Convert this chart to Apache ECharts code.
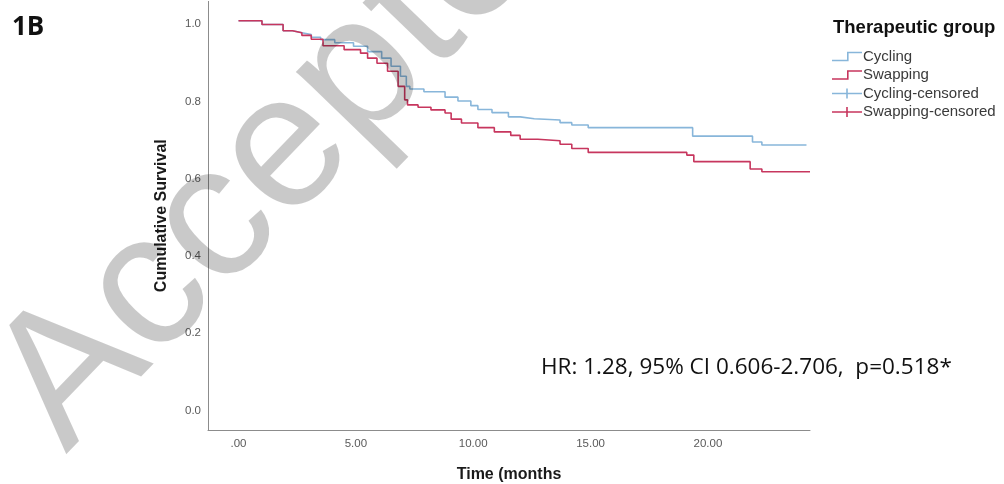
<!DOCTYPE html>
<html>
<head>
<meta charset="utf-8">
<title>Cumulative Survival</title>
<style>
  html, body { margin: 0; padding: 0; background: #fff; }
  #chart { width: 1004px; height: 484px; }
</style>
</head>
<body>
<div id="chart"></div>
<script src="https://cdn.jsdelivr.net/npm/echarts@6/dist/echarts.min.js"></script>
<script>
// Kaplan-Meier steps (time in months, survival after the event)
var cyclingTime = [0, 1.0, 1.9, 2.3, 2.7, 3.1, 3.5, 4.1, 4.9, 5.5, 6.1, 6.5, 6.9, 7.15, 7.3, 7.9, 8.8, 9.35, 9.9, 10.2, 10.8, 11.5, 12.0, 12.6, 13.7, 14.2, 14.9, 19.35, 21.9, 22.3, 24.2];
var cyclingSurv = [1.0, 0.99, 0.974, 0.969, 0.964, 0.957, 0.951, 0.943, 0.934, 0.920, 0.903, 0.882, 0.856, 0.830, 0.823, 0.816, 0.802, 0.792, 0.780, 0.770, 0.762, 0.751, 0.746, 0.743, 0.736, 0.730, 0.723, 0.701, 0.686, 0.678, 0.678];
var swappingTime = [0, 1.0, 1.9, 2.3, 2.7, 3.1, 3.6, 4.5, 5.2, 5.5, 5.9, 6.35, 6.8, 7.08, 7.2, 7.65, 8.2, 8.8, 9.06, 9.5, 10.2, 10.9, 11.6, 12.0, 12.75, 13.7, 14.2, 14.9, 19.1, 19.4, 21.8, 22.3, 24.35];
var swappingSurv = [1.0, 0.99, 0.974, 0.969, 0.962, 0.952, 0.935, 0.925, 0.916, 0.903, 0.890, 0.869, 0.830, 0.795, 0.782, 0.776, 0.769, 0.761, 0.745, 0.735, 0.723, 0.712, 0.703, 0.693, 0.689, 0.680, 0.669, 0.659, 0.652, 0.635, 0.616, 0.609, 0.609];

var xTickValues = [0, 5, 10, 15, 20];
var xTickLabels = ['.00', '5.00', '10.00', '15.00', '20.00'];
var yTickValues = [0, 0.2, 0.4, 0.6, 0.8, 1.0];
var yTickLabels = ['0.0', '0.2', '0.4', '0.6', '0.8', '1.0'];

var blue = '#88b6da';
var red = '#c7365e';

function pairs(t, s) {
  return t.map(function (v, i) { return [v, s[i]]; });
}

var stepIcon = 'path://M0,8 L15,8 L15,0 L30,0 L30,1.6 L16.6,1.6 L16.6,9.6 L0,9.6 Z';
var plusIcon = 'path://M0,4.2 L30,4.2 L30,5.8 L0,5.8 Z M14.2,0 L15.8,0 L15.8,10 L14.2,10 Z';

var myChart = echarts.init(document.getElementById('chart'));
var option = {
  animation: false,
  grid: { left: 208, right: 194, top: 1.4, bottom: 54, outerBoundsMode: 'none' },
  xAxis: {
    type: 'value',
    min: -1.3,
    max: 24.35,
    name: 'Time (months',
    nameLocation: 'middle',
    nameGap: 37,
    nameTextStyle: { fontFamily: 'Liberation Sans', fontWeight: 'bold', fontSize: 16, color: '#1a1a1a' },
    axisLine: { onZero: false, lineStyle: { color: '#8c8c8c', width: 1 } },
    axisTick: { show: false },
    splitLine: { show: false },
    axisLabel: {
      customValues: xTickValues,
      formatter: function (v) { return xTickLabels[xTickValues.indexOf(v)]; },
      fontFamily: 'Liberation Sans', fontSize: 11.5, color: '#5a5a5a', margin: 8
    }
  },
  yAxis: {
    type: 'value',
    min: -0.06,
    max: 1.05,
    name: 'Cumulative Survival',
    nameLocation: 'middle',
    nameGap: 38,
    nameTextStyle: { fontFamily: 'Liberation Sans', fontWeight: 'bold', fontSize: 16, color: '#1a1a1a' },
    axisLine: { show: true, onZero: false, lineStyle: { color: '#8c8c8c', width: 1 } },
    axisTick: { show: false },
    splitLine: { show: false },
    axisLabel: {
      customValues: yTickValues,
      formatter: function (v) { return '{v|' + yTickLabels[yTickValues.indexOf(v)] + '}'; },
      rich: { v: { fontFamily: 'Liberation Sans', fontSize: 11.5, color: '#5a5a5a', padding: [7, 0, 0, 0] } },
      margin: 7
    }
  },
  legend: {
    orient: 'vertical',
    left: 832,
    top: 49,
    padding: 0,
    itemGap: 3.5,
    itemWidth: 30,
    itemHeight: 10,
    textStyle: { fontFamily: 'Liberation Sans', fontSize: 15, color: '#3a3a3a', padding: [0, 0, 0, -4] },
    data: [
      { name: 'Cycling', icon: stepIcon },
      { name: 'Swapping', icon: stepIcon },
      { name: 'Cycling-censored', icon: plusIcon },
      { name: 'Swapping-censored', icon: plusIcon }
    ]
  },
  graphic: [
    { type: 'text', left: 12, top: 15, style: { text: '1B', fontFamily: 'Open Sans', fontWeight: 'bold', fontSize: 26, fill: '#111' } },
    { type: 'text', x: 833, y: 28, style: { text: 'Therapeutic group', fontFamily: 'Liberation Sans', fontWeight: 'bold', fontSize: 18.5, fill: '#111', verticalAlign: 'middle' } },
    { type: 'text', x: 541, y: 368, style: { text: 'HR: 1.28, 95% CI 0.606-2.706,  p=0.518*', fontFamily: 'Open Sans', fontSize: 22.5, fill: '#111', verticalAlign: 'middle' } },
    // watermark
    { type: 'text', x: -40, y: 352, rotation: 46 * Math.PI / 180, z: 100, silent: true,
      style: { text: 'Accepted', fontFamily: 'Liberation Sans', fontSize: 190, fill: 'rgba(0,0,0,0.21)', verticalAlign: 'top' } }
  ],
  series: [
    {
      name: 'Cycling', type: 'line', step: 'end', showSymbol: false, symbol: 'none',
      color: blue, lineStyle: { width: 1.6, color: blue },
      data: pairs(cyclingTime, cyclingSurv)
    },
    {
      name: 'Swapping', type: 'line', step: 'end', showSymbol: false, symbol: 'none',
      color: red, lineStyle: { width: 1.6, color: red },
      data: pairs(swappingTime, swappingSurv)
    },
    { name: 'Cycling-censored', type: 'line', color: blue, data: [] },
    { name: 'Swapping-censored', type: 'line', color: red, data: [] }
  ]
};
myChart.setOption(option);
</script>
</body>
</html>
